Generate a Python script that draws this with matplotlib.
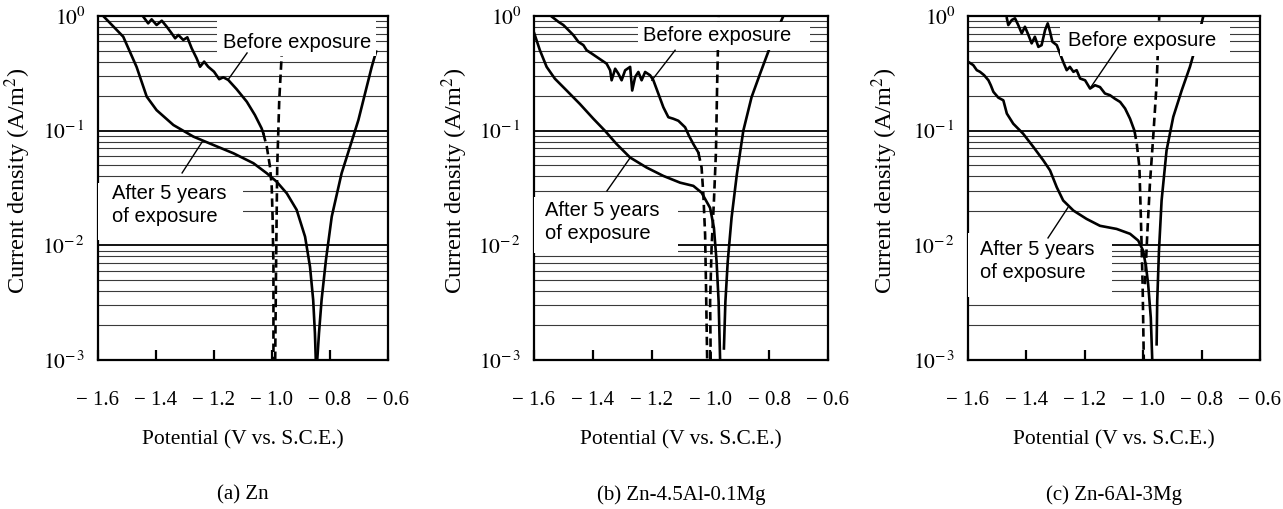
import matplotlib
matplotlib.use("Agg")
import matplotlib.pyplot as plt
from matplotlib.patches import Rectangle
from matplotlib.ticker import LogLocator, FixedLocator, NullFormatter

plt.rcParams['font.family'] = ['Liberation Serif', 'DejaVu Serif']
plt.rcParams['mathtext.fontset'] = 'stix'

# ---- (a) Zn ----
zn_after_v = [-1.582, -1.513, -1.467, -1.432, -1.398, -1.340, -1.271, -1.202, -1.133, -1.064,
              -1.018, -0.984, -0.949, -0.915, -0.886, -0.869, -0.858, -0.852, -0.849]
zn_after_i = [1.0, 0.66, 0.36, 0.198, 0.151, 0.112, 0.0887, 0.075, 0.0635, 0.052,
              0.0425, 0.0359, 0.0284, 0.0204, 0.0119, 0.00652, 0.00334, 0.00171, 0.001]
zn_after_rv = [-0.844, -0.838, -0.829, -0.814, -0.794, -0.760, -0.720, -0.702, -0.679, -0.656, -0.641]
zn_after_ri = [0.001, 0.00171, 0.00334, 0.00746, 0.0178, 0.0425, 0.0887, 0.124, 0.212, 0.361, 0.489]
zn_before_v = [-1.444, -1.427, -1.415, -1.398, -1.380, -1.363, -1.346, -1.334, -1.323, -1.306,
               -1.292, -1.277, -1.260, -1.248, -1.234, -1.220, -1.200, -1.182, -1.168, -1.151,
               -1.122, -1.087, -1.059, -1.036, -1.030]
zn_before_i = [0.987, 0.863, 0.935, 0.835, 0.91, 0.807, 0.706, 0.639, 0.683, 0.618,
               0.652, 0.523, 0.428, 0.361, 0.40, 0.361, 0.327, 0.281, 0.292, 0.277,
               0.23, 0.179, 0.137, 0.105, 0.095]
zn_before_tv = [-1.030, -1.018, -1.007, -1.001, -0.998, -0.995, -0.995]
zn_before_ti = [0.095, 0.0725, 0.0486, 0.0325, 0.0178, 0.0065, 0.001]
zn_before_rv = [-0.989, -0.986, -0.982, -0.975, -0.967, -0.963]
zn_before_ri = [0.001, 0.0065, 0.0486, 0.185, 0.44, 0.97]

# ---- (b) Zn-4.5Al-0.1Mg ----
zam_after_v = [-1.599, -1.580, -1.557, -1.529, -1.489, -1.444, -1.398, -1.359, -1.319, -1.273,
               -1.217, -1.160, -1.103, -1.058, -1.030, -1.001, -0.988, -0.979, -0.972, -0.967]
zam_after_i = [0.705, 0.503, 0.36, 0.284, 0.224, 0.171, 0.127, 0.1, 0.0764, 0.0583,
               0.0477, 0.0403, 0.0352, 0.033, 0.0288, 0.0212, 0.0142, 0.00724, 0.00323, 0.001]
zam_after_rv = [-0.954, -0.949, -0.941, -0.928, -0.910, -0.888, -0.860, -0.831, -0.797, -0.752]
zam_after_ri = [0.00126, 0.00323, 0.00724, 0.0174, 0.0417, 0.1, 0.196, 0.314, 0.538, 1.0]
zam_before_v = [-1.540, -1.517, -1.500, -1.483, -1.466, -1.449, -1.432, -1.421, -1.404, -1.387,
                -1.370, -1.353, -1.341, -1.336, -1.324, -1.313, -1.302, -1.290, -1.273, -1.266,
                -1.256, -1.245, -1.234, -1.222, -1.205, -1.194, -1.177, -1.160, -1.143, -1.126,
                -1.109, -1.086, -1.073, -1.058, -1.041]
zam_before_i = [0.99, 0.89, 0.834, 0.754, 0.681, 0.595, 0.557, 0.503, 0.471, 0.44,
                0.411, 0.384, 0.336, 0.275, 0.347, 0.314, 0.275, 0.336, 0.36, 0.224,
                0.294, 0.325, 0.275, 0.325, 0.304, 0.275, 0.21, 0.16, 0.131, 0.127,
                0.122, 0.107, 0.0904, 0.0764, 0.0645]
zam_before_tv = [-1.041, -1.030, -1.024, -1.018, -1.015, -1.011]
zam_before_ti = [0.0645, 0.0477, 0.0279, 0.0124, 0.00452, 0.001]
zam_before_rv = [-0.999, -1.001, -0.996, -0.988, -0.981, -0.977, -0.972]
zam_before_ri = [0.001, 0.00323, 0.0095, 0.0243, 0.0668, 0.257, 1.0]

# ---- (c) Zn-6Al-3Mg ----
zmg_after_v = [-1.599, -1.582, -1.570, -1.559, -1.545, -1.530, -1.522, -1.513, -1.496, -1.479,
               -1.467, -1.445, -1.411, -1.376, -1.342, -1.319, -1.296, -1.274, -1.239, -1.194,
               -1.148, -1.091, -1.045, -1.017, -1.000, -0.990, -0.983, -0.974, -0.969]
zmg_after_i = [0.398, 0.373, 0.337, 0.326, 0.305, 0.275, 0.249, 0.218, 0.194, 0.184,
               0.141, 0.115, 0.094, 0.072, 0.055, 0.045, 0.0321, 0.0246, 0.0201, 0.017,
               0.0148, 0.0139, 0.0126, 0.011, 0.00897, 0.00641, 0.00458, 0.00234, 0.001]
zmg_after_rv = [-0.954, -0.952, -0.946, -0.937, -0.920, -0.897, -0.868, -0.840, -0.817, -0.794]
zmg_after_ri = [0.00137, 0.00327, 0.00897, 0.0246, 0.0673, 0.132, 0.225, 0.36, 0.577, 1.0]
zmg_before_v = [-1.467, -1.462, -1.450, -1.439, -1.428, -1.416, -1.405, -1.393, -1.382, -1.371,
                -1.359, -1.348, -1.336, -1.327, -1.319, -1.311, -1.296, -1.285, -1.274, -1.262,
                -1.251, -1.239, -1.228, -1.216, -1.199, -1.182, -1.165, -1.148, -1.131, -1.114,
                -1.097, -1.079, -1.062, -1.045, -1.030]
zmg_before_i = [0.955, 0.834, 0.923, 0.955, 0.834, 0.706, 0.806, 0.682, 0.577, 0.659,
                0.538, 0.557, 0.755, 0.863, 0.729, 0.596, 0.557, 0.471, 0.398, 0.337,
                0.36, 0.326, 0.337, 0.285, 0.275, 0.233, 0.249, 0.24, 0.211, 0.204,
                0.19, 0.178, 0.156, 0.127, 0.1]
zmg_before_tv = [-1.030, -1.022, -1.013, -1.008, -1.002, -0.998]
zmg_before_ti = [0.1, 0.0769, 0.048, 0.0175, 0.00458, 0.001]
zmg_before_rv = [-0.994, -0.986, -0.977, -0.965, -0.954, -0.945]
zmg_before_ri = [0.00458, 0.0126, 0.0344, 0.094, 0.258, 1.0]

captions = ['(a) Zn', '(b) Zn-4.5Al-0.1Mg', '(c) Zn-6Al-3Mg']
xticks = [-1.6, -1.4, -1.2, -1.0, -0.8, -0.6]
xticklabels = ['\u2212 1.6', '\u2212 1.4', '\u2212 1.2', '\u2212 1.0', '\u2212 0.8', '\u2212 0.6']

panels = [
    dict(after=(zn_after_v, zn_after_i), after_r=(zn_after_rv, zn_after_ri),
         before=(zn_before_v, zn_before_i), before_t=(zn_before_tv, zn_before_ti),
         before_r=(zn_before_rv, zn_before_ri),
         # label text position, leader line (from, to), white box (x0, x1, y0, y1)
         btxt=(-1.169, 0.593), bline=((-1.086, 0.476), (-1.152, 0.277)),
         bbox=(-1.190, -0.641, 0.448, 0.96),
         atxt=(-1.552, 0.0225), aline=((-1.310, 0.0428), (-1.241, 0.0797)),
         abox=(-1.6, -1.100, 0.0111, 0.035)),
    dict(after=(zam_after_v, zam_after_i), after_r=(zam_after_rv, zam_after_ri),
         before=(zam_before_v, zam_before_i), before_t=(zam_before_tv, zam_before_ti),
         before_r=(zam_before_rv, zam_before_ri),
         btxt=(-1.229, 0.681), bline=((-1.120, 0.503), (-1.199, 0.275)),
         bbox=(-1.246, -0.661, 0.503, 0.886),
         atxt=(-1.563, 0.0159), aline=((-1.352, 0.0298), (-1.273, 0.058)),
         abox=(-1.6, -1.110, 0.0085, 0.0264)),
    dict(after=(zmg_after_v, zmg_after_i), after_r=(zmg_after_rv, zmg_after_ri),
         before=(zmg_before_v, zmg_before_i), before_t=(zmg_before_tv, zmg_before_ti),
         before_r=(zmg_before_rv, zmg_before_ri),
         btxt=(-1.258, 0.617), bline=((-1.086, 0.535), (-1.182, 0.234)),
         bbox=(-1.285, -0.703, 0.447, 0.851),
         atxt=(-1.559, 0.00733), aline=((-1.326, 0.0116), (-1.258, 0.0213)),
         abox=(-1.6, -1.107, 0.00355, 0.0129)),
]

W, H = 1283, 509
fig = plt.figure(figsize=(W / 100, H / 100), dpi=100)
lefts = [98, 534, 968]
widths = [290, 294, 292]
ylabel_x = [18, 455, 885]
top_px, bot_px = 16, 360

lw = 1.9
dash = (0, (3.2, 1.8))

for k, p in enumerate(panels):
    ax = fig.add_axes([lefts[k] / W, 1 - bot_px / H, widths[k] / W, (bot_px - top_px) / H])
    ax.set_yscale('log')
    ax.set_xlim(-1.6, -0.6)
    ax.set_ylim(1e-3, 1)

    ax.plot(*p['after'], color='black', lw=lw, zorder=2)
    ax.plot(*p['after_r'], color='black', lw=lw, zorder=2)
    ax.plot(*p['before'], color='black', lw=lw, zorder=2)
    ax.plot(*p['before_t'], color='black', lw=lw, ls=dash, zorder=2)
    ax.plot(*p['before_r'], color='black', lw=lw, ls=dash, zorder=2)

    # white boxes behind the curve labels
    for (x0, x1, y0, y1) in (p['bbox'], p['abox']):
        ax.add_patch(Rectangle((x0, y0), x1 - x0, y1 - y0, facecolor='white',
                               edgecolor='none', zorder=3))

    ax.text(*p['btxt'], 'Before exposure', family='Liberation Sans', fontsize=14.5,
            va='center', ha='left', zorder=5)
    ax.text(*p['atxt'], 'After 5 years\nof exposure', family='Liberation Sans', fontsize=14.5,
            va='center', ha='left', linespacing=1.3, zorder=5)
    for (a, b) in (p['bline'], p['aline']):
        ax.plot([a[0], b[0]], [a[1], b[1]], color='black', lw=1.0, zorder=4)

    ax.yaxis.set_major_locator(FixedLocator([1e-3, 1e-2, 1e-1, 1]))
    ax.set_yticklabels([r'$10^{-\,3}$', r'$10^{-\,2}$', r'$10^{-\,1}$', r'$10^{0}$'])
    ax.yaxis.set_minor_locator(LogLocator(subs=range(2, 10)))
    ax.yaxis.set_minor_formatter(NullFormatter())
    ax.grid(True, which='minor', axis='y', color='#3a3a3a', lw=0.8)
    ax.grid(True, which='major', axis='y', color='black', lw=1.3)
    ax.tick_params(axis='y', which='both', length=0, pad=9, labelsize=15.5)

    ax.set_xticks(xticks)
    ax.set_xticklabels(xticklabels)
    ax.tick_params(axis='x', direction='in', length=7, width=1.6, pad=22, labelsize=15)

    for s in ax.spines.values():
        s.set_linewidth(1.6)

    ax.set_xlabel('Potential (V vs. S.C.E.)', fontsize=15.5, labelpad=15)
    fig.text(ylabel_x[k] / W, 1 - 181 / H, 'Current density (A/m$^2$)', rotation=90,
             ha='center', va='center', fontsize=17.5)

    cx = (lefts[k] + widths[k] / 2) / W
    fig.text(cx, 1 - 495 / H, captions[k], ha='center', va='center', fontsize=15)

fig.savefig('out.png', dpi=100, facecolor='white')
